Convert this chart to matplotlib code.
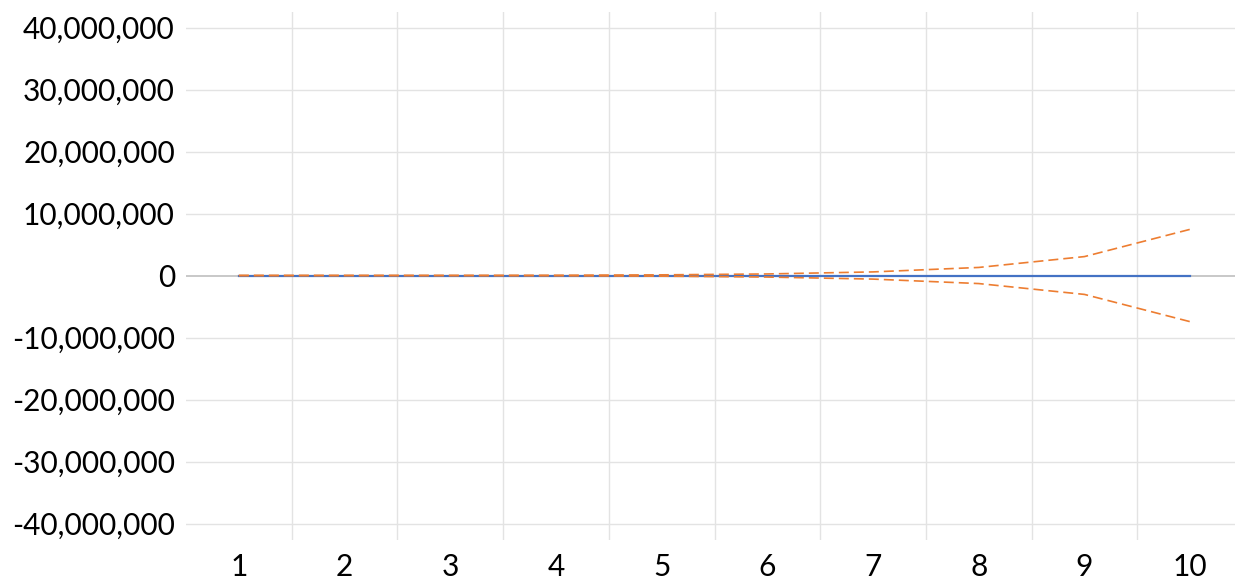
import matplotlib.pyplot as plt
import matplotlib.ticker as mtick

plt.rcParams['font.family'] = ['Lato', 'DejaVu Sans']

periods = [1, 2, 3, 4, 5, 6, 7, 8, 9, 10]
mean_line = [0, 0, 0, 0, 0, 0, 0, 0, 0, 0]
upper = [3000, 8000, 20000, 45000, 105000, 250000, 580000, 1300000, 3050000, 7450000]
lower = [-3000, -8000, -20000, -45000, -105000, -250000, -580000, -1300000, -3050000, -7450000]
y_ticks = [-40e6, -30e6, -20e6, -10e6, 0, 10e6, 20e6, 30e6, 40e6]

fig = plt.figure(figsize=(12.35, 5.79), dpi=100)
ax = fig.add_axes([186 / 1235, 39 / 579, 1057 / 1235, 528 / 579])

ax.set_xlim(0.5, 10.5)
ax.set_ylim(-42.66e6, 42.5e6)

# grid: horizontal at ticks, vertical between categories
for y in y_ticks:
    if y != 0:
        ax.axhline(y, color='#e3e3e3', lw=1, zorder=0)
for xb in [1.5, 2.5, 3.5, 4.5, 5.5, 6.5, 7.5, 8.5, 9.5]:
    ax.axvline(xb, color='#e3e3e3', lw=1, zorder=0)
ax.axhline(0, color='#bfbfbf', lw=1.2, zorder=1)

ax.plot(periods, mean_line, color='#4472c4', lw=1.6, zorder=3)
ax.plot(periods, upper, color='#ed7d31', lw=1.2, ls=(0, (6, 3)), zorder=4)
ax.plot(periods, lower, color='#ed7d31', lw=1.2, ls=(0, (6, 3)), zorder=4)

ax.set_yticks(y_ticks)
ax.yaxis.set_major_formatter(mtick.FuncFormatter(lambda v, p: f'{int(round(v)):,}'))
ax.set_xticks(periods)
ax.set_xticklabels([str(p) for p in periods])
ax.tick_params(axis='both', length=0, labelsize=21.5, colors='black')
ax.tick_params(axis='y', pad=8)
ax.tick_params(axis='x', pad=9)
for s in ax.spines.values():
    s.set_visible(False)

fig.savefig('out.png', dpi=100)
